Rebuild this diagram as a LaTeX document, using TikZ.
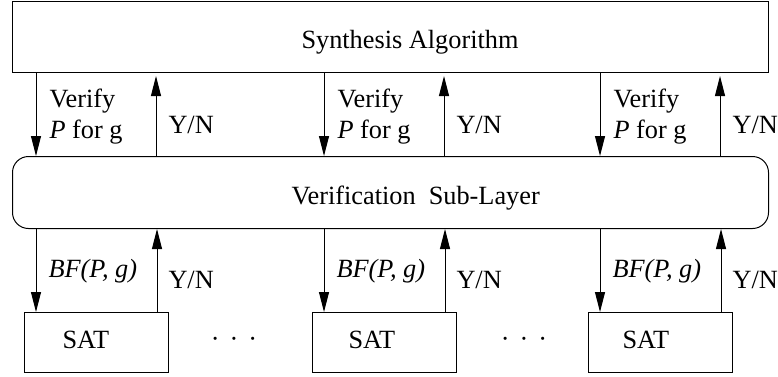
\documentclass[tikz,border=0pt]{standalone}
\usepackage{fontspec}
\setmainfont{Liberation Serif}
\usetikzlibrary{arrows.meta}
\begin{document}
\begin{tikzpicture}[x=1pt,y=1pt,line width=1pt,
  box/.style={draw,inner sep=0pt,anchor=north west},
  txt/.style={inner sep=0pt,anchor=base west,font=\fontsize{26.3}{30}\selectfont},
  arr/.style={-{Triangle[length=20pt,width=10pt]}}]
\useasboundingbox (0,0) rectangle (778,-376);
% boxes
\node[box,minimum width=756pt,minimum height=71pt] (synth) at (12,-1) {};
\node[box,rounded corners=16pt,minimum width=756pt,minimum height=72pt] (verif) at (12,-156) {};
\node[box,minimum width=144pt,minimum height=60pt] (sat1) at (24,-312) {};
\node[box,minimum width=144pt,minimum height=60pt] (sat2) at (312,-312) {};
\node[box,minimum width=144pt,minimum height=60pt] (sat3) at (588,-312) {};
% box texts
\node[txt] (tsynth) at (301,-48) {Synthesis Algorithm};
\node[txt] (tverif) at (291,-204) {Verification\ \ Sub-Layer};
\node[txt] (tsat1) at (62,-348) {SAT};
\node[txt] (tsat2) at (348,-348) {SAT};
\node[txt] (tsat3) at (622,-348) {SAT};
\node[inner sep=0pt,font=\fontsize{26.3}{30}\selectfont] (dots1) at (234,-342) {·\hspace{10pt}·\hspace{10pt}·};
\node[inner sep=0pt,font=\fontsize{26.3}{30}\selectfont] (dots2) at (524,-342) {·\hspace{10pt}·\hspace{10pt}·};
% upper arrows
\foreach \d/\u in {24/144,312/432,588/708}{
  \draw[arr] ([xshift=\d pt]synth.south west) -- ([xshift=\d pt]verif.north west);
  \draw[arr] ([xshift=\u pt]verif.north west) -- ([xshift=\u pt,yshift=-3pt]synth.south west);
}
% lower arrows
\foreach \s in {sat1,sat2,sat3}{
  \draw[arr] ([xshift=12pt]\s.north west |- verif.south) -- ([xshift=12pt]\s.north west);
  \draw[arr] ([xshift=-12pt]\s.north east) -- ([xshift=-12pt]\s.north east |- verif.south);
}
% labels
\foreach \a/\b in {36/156,324/444,600/720}{
  \node[txt] at (\a+13,-107) {Verify};
  \node[txt] at (\a+13,-138) {\textit{P} for g};
  \node[txt] at (\b+12,-133) {Y/N};
  \node[txt] at (\a+12,-277) {\textit{BF(P, g)}};
  \node[txt] at (\b+12,-288) {Y/N};
}
\end{tikzpicture}
\end{document}
